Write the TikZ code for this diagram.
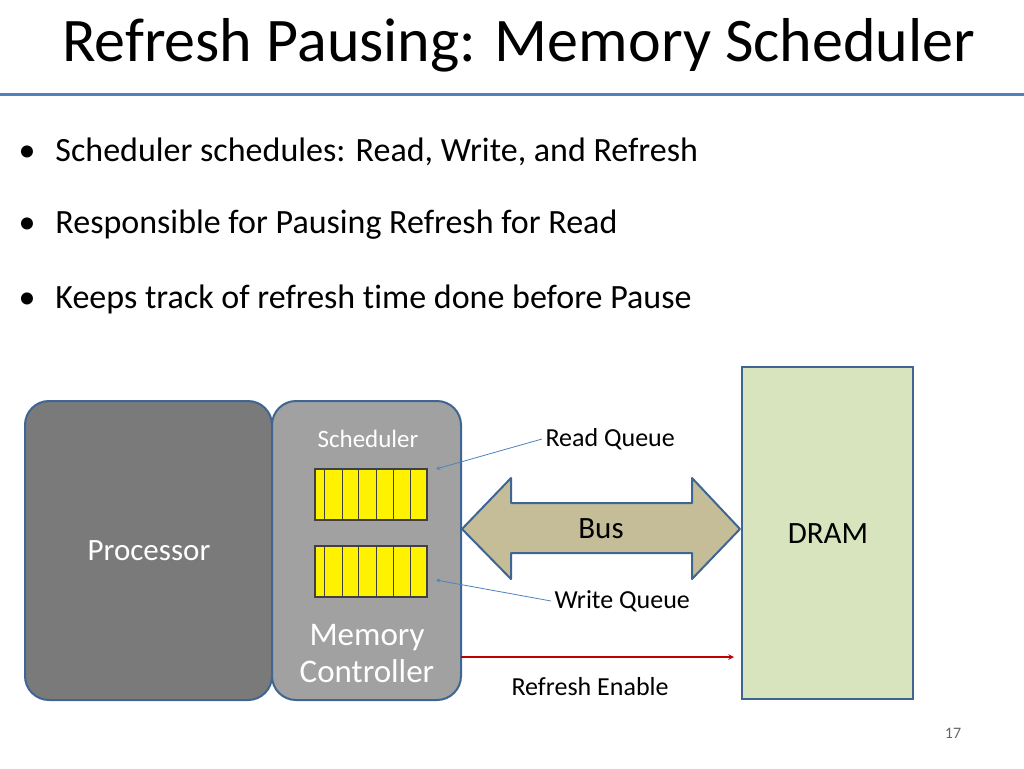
\documentclass[tikz,border=0pt]{standalone}
\usepackage{fontspec}
\setmainfont{Carlito}[Ligatures=NoCommon]
\definecolor{outl}{HTML}{3F6592}
\definecolor{tline}{HTML}{4F81BD}
\definecolor{dramf}{HTML}{D7E4BD}
\definecolor{busf}{HTML}{C4BD97}
\begin{document}
\begin{tikzpicture}[x=1pt,y=-1pt,
  box/.style={draw=outl, line width=2pt, rounded corners=24pt},
  lbl/.style={font=\fontsize{26}{30}\selectfont, anchor=west},
  q/.style={draw=black!75, fill=yellow, line width=1.2pt},
  pt/.style={draw=tline, line width=0.8pt, ->, >=stealth}]
\useasboundingbox (0,0) rectangle (1024,768);
\node[anchor=west,font=\fontsize{62}{68}\selectfont, inner sep=0pt] (title) at (62,45) {Refresh Pausing: Memory Scheduler};
\draw[line width=3pt, color=tline] (0,94) -- (1024,94);
\foreach \y/\t [count=\i] in {152/{Scheduler schedules: Read, Write, and Refresh},225/{Responsible for Pausing Refresh for Read},299/{Keeps track of refresh time done before Pause}}{
  \node[font=\fontsize{34}{38}\selectfont,anchor=west] (b\i) at (15,\y) {\textbullet\hspace{20pt}\t};}
\draw[box, fill=black!52] (25,401) rectangle (272,700);
\node[font=\fontsize{31}{36}\selectfont, text=white] (proc) at (149,551) {Processor};
\draw[box, fill=black!37] (272,401) rectangle (461,700);
\node[font=\fontsize{25}{30}\selectfont, text=white] (sch) at (368,439) {Scheduler};
\node[font=\fontsize{33}{37}\selectfont, text=white, align=center] (mc) at (367,654) {Memory\\Controller};
\draw[draw=outl, line width=2pt, fill=dramf] (742,367) rectangle (913,699);
\node[font=\fontsize{31}{36}\selectfont] (dram) at (828,534) {DRAM};
\foreach \yy in {469,546}{
  \draw[q] (315,\yy) rectangle (427,\yy+51);
  \foreach \xx in {324,342,358,376,393,410} \draw[black!75,line width=0.8pt] (\xx,\yy) -- (\xx,\yy+51);
}
\draw[draw=outl, line width=2pt, fill=busf, line join=round]
 (462,529) -- (511,478) -- (511,503) -- (692,503) -- (692,478) -- (740,529) -- (692,579) -- (692,553) -- (511,553) -- (511,579) -- cycle;
\node[font=\fontsize{31}{36}\selectfont] (bus) at (601,529) {Bus};
\node[lbl] (rql) at (542,439) {Read Queue};
\node[lbl] (wql) at (551,601) {Write Queue};
\node[lbl] (rel) at (508,687) {Refresh Enable};
\coordinate (rqa) at (436,469);
\coordinate (wqa) at (436,580);
\draw[pt] (rql.west) -- (rqa);
\draw[pt] (wql.west) -- (wqa);
\coordinate (rs) at (461,657);
\coordinate (re) at (734,657);
\draw[red!75!black, line width=1.5pt, ->, >=stealth] (rs) -- (re);
\node[font=\fontsize{16}{18}\selectfont, text=black!60] (pg) at (953,733) {17};
\end{tikzpicture}
\end{document}
